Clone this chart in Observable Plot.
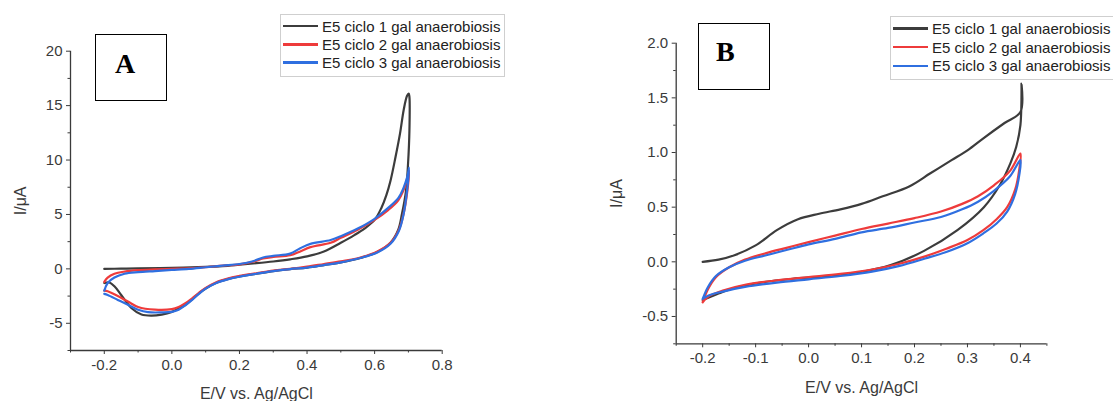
<!DOCTYPE html>
<html><head><meta charset="utf-8">
<script src="https://cdn.jsdelivr.net/npm/d3@7"></script>
<script src="https://cdn.jsdelivr.net/npm/@observablehq/plot@0.6"></script>
<style>
body{margin:0;background:#fff;}
#wrap{position:relative;width:1113px;height:401px;overflow:hidden;font-family:"Liberation Sans",Arial,sans-serif;background:#fff;}
.panel{position:absolute;top:0;}
.legend{position:absolute;border:1px solid #cfcfcf;background:#fff;box-sizing:border-box;}
.row{display:flex;align-items:center;font-size:15px;color:#222;white-space:nowrap;}
.sw{width:35px;height:2.6px;margin-right:4px;flex:none;}
.tag{position:absolute;border:1px solid #000;background:#fff;box-sizing:border-box;}
.tag span{position:absolute;font-family:"Liberation Serif","Times New Roman",serif;font-weight:bold;font-size:28px;line-height:28px;color:#000;}
</style></head>
<body><div id="wrap"></div>
<script>
// ---------- series names & colours ----------
const seriesNames = ["E5 ciclo 1 gal anaerobiosis","E5 ciclo 2 gal anaerobiosis","E5 ciclo 3 gal anaerobiosis"];
const seriesColors = ["#3c3c3c","#ee3b3b","#2f6fe0"];

// ---------- Panel A ticks ----------
const aXTicks = [-0.2, 0.0, 0.2, 0.4, 0.6, 0.8];
const aXMinor = [-0.3, -0.1, 0.1, 0.3, 0.5, 0.7];
const aYTicks = [-5, 0, 5, 10, 15, 20];
const aYMinor = [-7.5, -2.5, 2.5, 7.5, 12.5, 17.5];

// ---------- Panel A data (E / V, I / uA), in scan order ----------
const aC1E = [-0.2,-0.15,-0.1,0.0,0.1,0.15,0.2,0.25,0.3,0.35,0.4,0.45,0.5,0.54,0.57,0.6,0.62,0.635,0.647,0.662,0.675,0.686,0.696,0.701,
  0.703,0.703,0.699,0.693,0.681,0.67,0.647,0.608,0.558,0.5,0.45,0.4,0.35,0.3,0.25,0.2,0.17,0.13,0.1,0.08,0.06,0.04,0.02,0.0,-0.03,-0.06,-0.09,-0.12,-0.15,-0.17,-0.185,-0.2];
const aC1I = [0.0,0.02,0.05,0.1,0.18,0.25,0.38,0.52,0.68,0.88,1.15,1.6,2.4,3.1,3.7,4.5,5.6,6.8,8.1,10.3,12.4,14.6,15.9,16.1,
  15.8,12.7,9.7,7.2,5.06,3.6,2.4,1.55,1.0,0.6,0.35,0.12,-0.02,-0.2,-0.45,-0.7,-0.9,-1.3,-1.8,-2.25,-2.8,-3.3,-3.65,-3.95,-4.2,-4.3,-4.2,-3.6,-2.4,-1.6,-1.25,-1.3];
const aC2E = [-0.2,-0.19,-0.17,-0.14,-0.1,-0.05,0.0,0.05,0.1,0.15,0.2,0.24,0.27,0.3,0.35,0.38,0.41,0.47,0.5,0.55,0.6,0.64,0.67,0.685,0.697,0.702,
  0.697,0.686,0.672,0.647,0.608,0.558,0.5,0.45,0.4,0.35,0.3,0.25,0.2,0.17,0.13,0.1,0.08,0.06,0.04,0.02,0.0,-0.05,-0.1,-0.13,-0.16,-0.19,-0.2];
const aC2I = [-1.2,-0.8,-0.45,-0.25,-0.12,-0.05,0.0,0.05,0.15,0.3,0.42,0.65,0.95,1.1,1.25,1.6,2.0,2.4,2.85,3.6,4.5,5.4,6.3,7.2,8.3,9.0,
  7.2,5.1,3.6,2.4,1.6,1.05,0.7,0.45,0.2,0.0,-0.15,-0.4,-0.65,-0.85,-1.25,-1.75,-2.2,-2.7,-3.15,-3.5,-3.7,-3.75,-3.5,-3.0,-2.5,-2.05,-2.0];
const aC3E = [-0.2,-0.19,-0.17,-0.14,-0.1,-0.05,0.0,0.05,0.1,0.15,0.2,0.24,0.27,0.3,0.35,0.38,0.41,0.47,0.5,0.55,0.6,0.64,0.67,0.685,0.697,0.702,
  0.696,0.686,0.672,0.647,0.608,0.558,0.5,0.45,0.4,0.35,0.3,0.25,0.2,0.17,0.13,0.1,0.08,0.06,0.04,0.02,0.0,-0.03,-0.07,-0.1,-0.13,-0.16,-0.19,-0.2];
const aC3I = [-2.0,-1.3,-0.8,-0.45,-0.3,-0.2,-0.1,0.0,0.15,0.3,0.45,0.7,1.05,1.2,1.4,1.9,2.3,2.65,3.0,3.7,4.6,5.6,6.5,7.4,8.5,9.3,
  7.2,5.06,3.5,2.3,1.5,1.0,0.6,0.35,0.12,-0.02,-0.2,-0.45,-0.72,-0.92,-1.32,-1.82,-2.3,-2.85,-3.35,-3.75,-3.95,-4.0,-3.98,-3.75,-3.3,-2.85,-2.4,-2.3];

// ---------- Panel B ticks ----------
const bXTicks = [-0.2,-0.1,0.0,0.1,0.2,0.3,0.4];
const bXMinor = [-0.25,-0.15,-0.05,0.05,0.15,0.25,0.35,0.45];
const bYTicks = [-0.5,0.0,0.5,1.0,1.5,2.0];
const bYMinor = [-0.75,-0.25,0.25,0.75,1.25,1.75];

// ---------- Panel B data ----------
const bC1E = [-0.2,-0.17,-0.14,-0.1,-0.06,-0.02,0.02,0.06,0.1,0.14,0.19,0.23,0.27,0.3,0.33,0.37,0.4,0.402,
  0.4,0.392,0.381,0.362,0.331,0.281,0.218,0.155,0.09,0.03,-0.03,-0.09,-0.14,-0.17,-0.2];
const bC1I = [0.0,0.02,0.06,0.15,0.29,0.39,0.44,0.48,0.53,0.6,0.69,0.81,0.93,1.02,1.13,1.27,1.37,1.63,
  1.25,1.05,0.9,0.71,0.5,0.29,0.1,-0.03,-0.1,-0.135,-0.155,-0.19,-0.24,-0.29,-0.35];
const bC2E = [-0.2,-0.19,-0.175,-0.15,-0.12,-0.08,-0.04,0.0,0.05,0.1,0.15,0.2,0.25,0.29,0.32,0.35,0.38,0.4,
  0.398,0.39,0.375,0.355,0.33,0.3,0.26,0.22,0.17,0.12,0.06,0.0,-0.06,-0.12,-0.16,-0.19,-0.2];
const bC2I = [-0.37,-0.25,-0.14,-0.05,0.02,0.08,0.13,0.18,0.24,0.3,0.35,0.4,0.46,0.53,0.6,0.7,0.83,0.99,
  0.85,0.66,0.5,0.39,0.29,0.2,0.12,0.05,-0.02,-0.07,-0.11,-0.14,-0.17,-0.21,-0.26,-0.32,-0.37];
const bC3E = [-0.2,-0.19,-0.175,-0.15,-0.12,-0.08,-0.04,0.0,0.05,0.1,0.15,0.2,0.25,0.29,0.32,0.35,0.38,0.4,
  0.398,0.39,0.375,0.355,0.33,0.3,0.26,0.22,0.17,0.12,0.06,0.0,-0.06,-0.12,-0.16,-0.19,-0.2];
const bC3I = [-0.34,-0.23,-0.13,-0.05,0.01,0.06,0.11,0.16,0.21,0.27,0.31,0.36,0.41,0.48,0.55,0.65,0.78,0.93,
  0.8,0.62,0.46,0.35,0.26,0.17,0.09,0.03,-0.04,-0.09,-0.13,-0.16,-0.19,-0.23,-0.27,-0.31,-0.34];

// ---------- helpers ----------
const pts = (E, I) => E.map((e, i) => ({E: e, I: I[i]}));
const fmt1 = d => d.toFixed(1);
const fmt0 = d => String(d);
const axisColor = "#3a3a3a";

function panel(o) {
  const lines = o.series.map(([E, I], k) => Plot.line(pts(E, I), {
    x: "E", y: "I", stroke: seriesColors[k], strokeWidth: 2.2, curve: "catmull-rom"
  }));
  return Plot.plot({
    width: o.width, height: 401,
    marginLeft: o.ml, marginRight: o.mr, marginTop: o.mt, marginBottom: o.mb,
    style: {fontFamily: '"Liberation Sans", Arial, sans-serif', fontSize: "15px", color: axisColor, background: "transparent", overflow: "visible"},
    x: {domain: o.xDomain},
    y: {domain: o.yDomain},
    marks: [
      Plot.ruleX([o.xDomain[0]], {stroke: axisColor, strokeWidth: 1.3}),
      Plot.ruleY([o.yDomain[0]], {stroke: axisColor, strokeWidth: 1.3}),
      Plot.axisX({ticks: o.xTicks, tickSize: 4, tickPadding: 5, tickFormat: fmt1, fontSize: 15, label: null}),
      Plot.axisX({ticks: [], label: "E/V vs. Ag/AgCl", fontSize: 16, labelAnchor: "center", labelArrow: "none", labelOffset: o.xLabelOffset}),
      Plot.axisX({ticks: o.xMinor, tickSize: 2.5, tickFormat: null, text: null, label: null}),
      Plot.axisY({ticks: o.yTicks, tickSize: 4, tickPadding: 4, tickFormat: o.yFmt, fontSize: 15, label: null}),
      Plot.axisY({ticks: [], label: "I/μA", fontSize: 16, labelAnchor: "center", labelArrow: "none", labelOffset: o.yLabelOffset}),
      Plot.axisY({ticks: o.yMinor, tickSize: 2.5, tickFormat: null, text: null, label: null}),
      ...lines
    ]
  });
}

const wrap = document.getElementById("wrap");

const svgA = panel({
  width: 460, ml: 70, mr: 18.3, mt: 50.7, mb: 51,
  xDomain: [-0.3, 0.8], yDomain: [-7.5, 20],
  xTicks: aXTicks, xMinor: aXMinor, yTicks: aYTicks, yMinor: aYMinor, yFmt: fmt0,
  xLabelOffset: 48, yLabelOffset: 56,
  series: [[aC1E, aC1I], [aC2E, aC2I], [aC3E, aC3I]]
});
svgA.classList.add("panel"); svgA.style.left = "0px";
wrap.appendChild(svgA);

const svgB = panel({
  width: 653, ml: 215.7, mr: 66.6, mt: 42.7, mb: 57.7,
  xDomain: [-0.25, 0.45], yDomain: [-0.75, 2.0],
  xTicks: bXTicks, xMinor: bXMinor, yTicks: bYTicks, yMinor: bYMinor, yFmt: fmt1,
  xLabelOffset: 49, yLabelOffset: 66,
  series: [[bC1E, bC1I], [bC2E, bC2I], [bC3E, bC3I]]
});
svgB.classList.add("panel"); svgB.style.left = "460px";
wrap.appendChild(svgB);

// ---------- legends ----------
function legend(left, top, rowH) {
  const d = document.createElement("div");
  d.className = "legend";
  d.style.left = left + "px"; d.style.top = top + "px";
  d.style.padding = "2px 4px 4px 2px";
  seriesNames.forEach((name, k) => {
    const r = document.createElement("div");
    r.className = "row"; r.style.height = rowH + "px";
    const sw = document.createElement("div");
    sw.className = "sw"; sw.style.background = seriesColors[k];
    const t = document.createElement("span"); t.textContent = name;
    r.appendChild(sw); r.appendChild(t); d.appendChild(r);
  });
  wrap.appendChild(d);
}
legend(280, 14, 18.3);
legend(890, 16, 18.8);

// ---------- panel tags ----------
function tag(left, top, w, h, letter, lx, ly) {
  const d = document.createElement("div");
  d.className = "tag";
  Object.assign(d.style, {left: left + "px", top: top + "px", width: w + "px", height: h + "px"});
  const s = document.createElement("span");
  s.textContent = letter; s.style.left = lx + "px"; s.style.top = ly + "px";
  d.appendChild(s); wrap.appendChild(d);
}
tag(95, 34, 72, 67, "A", 19, 15);
tag(698, 23, 72, 67, "B", 17, 14);
</script>
</body></html>
